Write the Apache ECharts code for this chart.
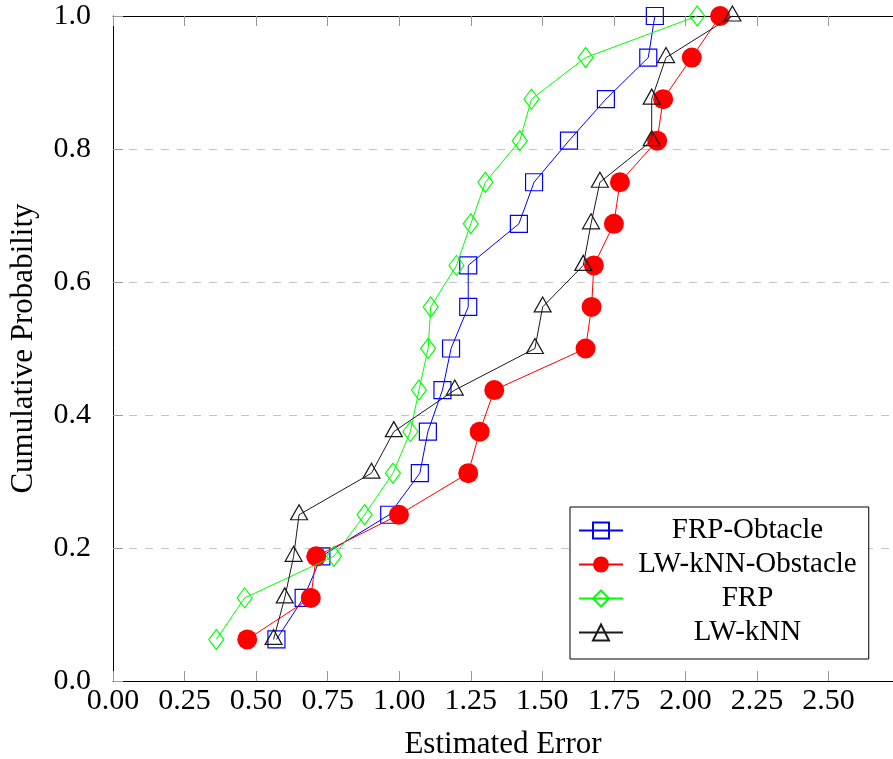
<!DOCTYPE html>
<html>
<head>
<meta charset="utf-8">
<script src="https://cdn.jsdelivr.net/npm/echarts@6/dist/echarts.min.js"></script>
<style>
html,body{margin:0;padding:0;background:#fff;}
#chart{width:893px;height:759px;}
</style>
</head>
<body>
<div id="chart"></div>
<script>
// Cumulative probability levels (y values)
const probLevels = [0.0625, 0.125, 0.1875, 0.25, 0.3125, 0.375, 0.4375, 0.5,
                    0.5625, 0.625, 0.6875, 0.75, 0.8125, 0.875, 0.9375, 1.0];
// Estimated error (x values) for each series
const frpObtacle = [0.571, 0.666, 0.728, 0.965, 1.072, 1.100, 1.151, 1.181,
                    1.241, 1.241, 1.418, 1.471, 1.593, 1.722, 1.870, 1.893];
const lwknnObstacle = [0.469, 0.691, 0.710, 0.999, 1.241, 1.281, 1.332, 1.651,
                       1.672, 1.680, 1.750, 1.771, 1.901, 1.922, 2.022, 2.121];
const frp = [0.361, 0.460, 0.772, 0.879, 0.978, 1.039, 1.069, 1.101,
             1.110, 1.200, 1.250, 1.301, 1.421, 1.462, 1.651, 2.041];
const lwknn = [0.561, 0.600, 0.631, 0.650, 0.903, 0.981, 1.194, 1.474,
               1.501, 1.643, 1.670, 1.701, 1.882, 1.882, 1.932, 2.164];
const seriesNames = ['FRP-Obtacle', 'LW-kNN-Obstacle', 'FRP', 'LW-kNN'];
const xTickLabels = ['0.00','0.25','0.50','0.75','1.00','1.25','1.50','1.75','2.00','2.25','2.50'];
const yTickLabels = ['0.0','0.2','0.4','0.6','0.8','1.0'];

const FONT = '"Liberation Serif", "Times New Roman", serif';
const pairs = xs => xs.map((x, i) => [x, probLevels[i]]);

const chart = echarts.init(document.getElementById('chart'), null, {renderer: 'canvas'});

const hollow = 'rgba(255,255,255,0)';

const option = {
  backgroundColor: '#ffffff',
  animation: false,
  grid: {left: 113, top: 16, right: 0, bottom: 78, containLabel: false, outerBoundsMode: 'none'},
  legend: {
    left: 570, top: 507,
    orient: 'vertical',
    backgroundColor: '#ffffff',
    borderColor: '#000000', borderWidth: 1, borderRadius: 0,
    padding: [9, 12, 12, 8],
    itemWidth: 44, itemHeight: 20, itemGap: 5,
    selectedMode: false,
    data: seriesNames,
    formatter: name => '{c|' + name + '}',
    textStyle: {
      fontFamily: FONT, fontSize: 29, color: '#000',
      rich: {c: {width: 239, align: 'center', fontFamily: FONT, fontSize: 29, color: '#000'}}
    }
  },
  xAxis: [{
    type: 'value', min: 0, max: 2.725, interval: 0.25,
    position: 'bottom',
    name: 'Estimated Error', nameLocation: 'middle', nameGap: 48,
    nameTextStyle: {fontFamily: FONT, fontSize: 31, color: '#000'},
    axisLine: {show: true, onZero: false, lineStyle: {color: '#000', width: 1}},
    axisTick: {show: true, inside: true, length: 10, lineStyle: {color: '#999', width: 1}},
    axisLabel: {
      fontFamily: FONT, fontSize: 30, color: '#000', margin: 5,
      showMaxLabel: false,
      formatter: v => {
        const i = Math.round(v / 0.25);
        return Math.abs(i * 0.25 - v) < 1e-6 && i < xTickLabels.length ? xTickLabels[i] : '';
      }
    },
    splitLine: {show: false}
  }, {
    type: 'value', min: 0, max: 2.725, interval: 0.25,
    position: 'top',
    axisLine: {show: true, onZero: false, lineStyle: {color: '#000', width: 1}},
    axisTick: {show: true, inside: true, length: 10, lineStyle: {color: '#999', width: 1}},
    axisLabel: {show: false},
    splitLine: {show: false}
  }],
  yAxis: {
    type: 'value', min: 0, max: 1, interval: 0.2,
    name: 'Cumulative Probability', nameLocation: 'middle', nameGap: 74,
    nameTextStyle: {fontFamily: FONT, fontSize: 31, color: '#000'},
    axisLine: {show: true, onZero: false, lineStyle: {color: '#000', width: 1}},
    axisTick: {show: true, inside: true, length: 10, lineStyle: {color: '#999', width: 1}},
    axisLabel: {
      fontFamily: FONT, fontSize: 30, color: '#000', margin: 22,
      formatter: v => yTickLabels[Math.round(v / 0.2)]
    },
    splitLine: {show: true, lineStyle: {color: '#c4c4c4', width: 1, type: [8, 8]}}
  },
  series: [
    {
      name: seriesNames[0], type: 'line', data: pairs(frpObtacle), clip: false,
      symbol: 'rect', symbolSize: 17,
      lineStyle: {color: '#0000ff', width: 1},
      itemStyle: {color: hollow, borderColor: '#0000ff', borderWidth: 1.2},
      z: 3
    },
    {
      name: seriesNames[1], type: 'line', data: pairs(lwknnObstacle), clip: false,
      symbol: 'circle', symbolSize: 20,
      lineStyle: {color: '#ff0000', width: 1},
      itemStyle: {color: '#ff0000', borderWidth: 0},
      z: 4
    },
    {
      name: seriesNames[2], type: 'line', data: pairs(frp), clip: false,
      symbol: 'diamond', symbolSize: [15, 20],
      lineStyle: {color: '#00ff00', width: 1},
      itemStyle: {color: hollow, borderColor: '#00ff00', borderWidth: 1.2},
      z: 5
    },
    {
      name: seriesNames[3], type: 'line', data: pairs(lwknn), clip: false,
      symbol: 'triangle', symbolSize: [17, 15], symbolOffset: [0, -2.5],
      lineStyle: {color: '#1a1a1a', width: 1},
      itemStyle: {color: hollow, borderColor: '#1a1a1a', borderWidth: 1.2},
      z: 6
    }
  ]
};
chart.setOption(option);
</script>
</body>
</html>
